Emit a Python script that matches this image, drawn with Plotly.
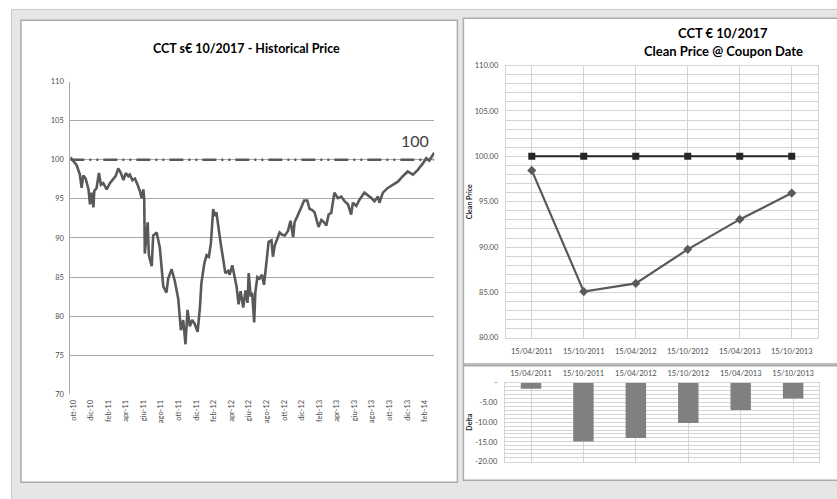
import plotly.graph_objects as go

# ---------------- data ----------------
hist_dates = [
    "2010-09-21", "2010-10-13", "2010-10-24", "2010-10-30", "2010-11-05", "2010-11-13", "2010-11-23",
    "2010-11-28", "2010-12-04", "2010-12-10", "2010-12-13", "2010-12-21", "2010-12-29",
    "2011-01-05", "2011-01-13", "2011-01-25", "2011-02-05", "2011-02-14", "2011-02-25", "2011-03-06",
    "2011-03-15", "2011-03-24", "2011-04-01", "2011-04-10", "2011-04-15", "2011-04-24", "2011-05-03",
    "2011-05-12", "2011-05-20", "2011-05-26", "2011-06-01", "2011-06-04", "2011-06-06", "2011-06-16",
    "2011-06-20", "2011-06-30", "2011-07-05", "2011-07-17", "2011-07-28", "2011-08-09", "2011-08-20",
    "2011-08-26", "2011-09-07", "2011-09-18", "2011-09-30", "2011-10-09", "2011-10-17", "2011-10-25",
    "2011-11-01", "2011-11-09", "2011-11-17", "2011-11-26", "2011-12-06", "2011-12-14", "2011-12-19",
    "2011-12-29",
    "2012-01-06", "2012-01-14", "2012-01-21", "2012-01-29", "2012-02-03", "2012-02-09", "2012-02-15",
    "2012-02-24", "2012-03-04", "2012-03-11", "2012-03-21", "2012-03-26", "2012-04-04", "2012-04-11",
    "2012-04-19", "2012-04-26", "2012-05-03", "2012-05-12", "2012-05-20", "2012-05-27", "2012-05-31",
    "2012-06-07", "2012-06-12", "2012-06-19", "2012-06-23", "2012-06-30", "2012-07-08", "2012-07-16",
    "2012-07-23", "2012-07-31", "2012-08-08", "2012-08-18", "2012-08-23", "2012-08-29", "2012-09-07",
    "2012-09-15", "2012-09-24", "2012-10-03", "2012-10-14", "2012-10-23", "2012-11-01", "2012-11-06",
    "2012-11-16", "2012-11-23", "2012-11-29", "2012-12-09", "2012-12-20", "2012-12-28",
    "2013-01-05", "2013-01-14", "2013-01-24", "2013-01-28", "2013-02-07", "2013-02-16", "2013-02-24",
    "2013-03-04", "2013-03-13", "2013-03-24", "2013-04-05", "2013-04-17", "2013-04-28", "2013-05-10",
    "2013-05-21", "2013-05-27", "2013-06-08", "2013-06-19", "2013-07-06", "2013-07-18", "2013-07-30",
    "2013-08-10", "2013-08-22", "2013-08-27", "2013-09-08", "2013-09-25", "2013-10-13", "2013-10-30",
    "2013-11-16", "2013-12-03", "2013-12-21",
    "2014-01-07", "2014-01-24", "2014-02-05", "2014-02-16", "2014-02-28", "2014-03-05",
]
hist_price = [
    100.3, 99.3, 98.1, 96.4, 98.0, 97.6, 96.2, 94.3, 95.8, 93.9, 96.0, 96.4, 98.3,
    96.8, 97.0, 96.2, 97.0, 97.4, 97.9, 98.9, 98.3, 97.4, 98.3, 97.9, 98.1, 97.4, 97.6, 96.8, 96.0,
    95.1, 96.2, 95.0, 88.0, 92.0, 87.8, 86.4, 90.3, 90.7, 88.8, 83.8, 83.0, 84.8, 86.0, 84.5, 82.2,
    78.2, 79.5, 76.4, 80.8, 78.7, 79.5, 79.0, 78.0, 81.1, 84.2, 86.7,
    87.8, 87.6, 89.3, 93.7, 92.8, 93.3, 91.4, 89.3, 87.2, 85.5, 85.8, 85.3, 86.5, 85.0, 83.8, 81.5,
    83.2, 81.1, 83.3, 81.7, 85.5, 82.5, 83.0, 79.2, 83.0, 85.0, 84.8, 85.3, 84.0, 86.7, 89.5, 89.7,
    87.6, 89.0, 89.9, 90.7, 90.4, 90.3, 90.9, 92.2, 90.1, 92.0, 92.8, 93.5, 93.9, 94.8, 94.8, 93.7,
    93.6, 93.3, 92.0, 91.4, 92.3, 92.0, 91.6, 93.0, 93.2, 95.8, 95.1, 95.3, 94.7, 94.3, 93.0, 94.5,
    94.1, 94.9, 95.8, 95.5, 95.1, 94.7, 95.3, 94.5, 95.8, 96.4, 96.8, 97.2, 97.9, 98.5, 98.1,
    98.7, 99.5, 100.2, 99.9, 100.6, 100.9,
]
par_value = 100

month_tick_dates = [
    "2010-10-01", "2010-12-01", "2011-02-01", "2011-04-01", "2011-06-01", "2011-08-01", "2011-10-01",
    "2011-12-01", "2012-02-01", "2012-04-01", "2012-06-01", "2012-08-01", "2012-10-01", "2012-12-01",
    "2013-02-01", "2013-04-01", "2013-06-01", "2013-08-01", "2013-10-01", "2013-12-01", "2014-02-01",
]
month_tick_labels = [
    "ott-10", "dic-10", "feb-11", "apr-11", "giu-11", "ago-11", "ott-11", "dic-11", "feb-12", "apr-12",
    "giu-12", "ago-12", "ott-12", "dic-12", "feb-13", "apr-13", "giu-13", "ago-13", "ott-13", "dic-13",
    "feb-14",
]

coupon_dates = ["15/04/2011", "15/10/2011", "15/04/2012", "15/10/2012", "15/04/2013", "15/10/2013"]
redemption = [100.0, 100.0, 100.0, 100.0, 100.0, 100.0]
clean_price = [98.45, 85.1, 86.0, 89.75, 93.05, 95.95]
delta = [-1.5, -14.9, -14.0, -10.2, -6.9, -4.0]

delta_tick_vals = [0, -5, -10, -15, -20]
delta_tick_text = ["-", "-5.00", "-10.00", "-15.00", "-20.00"]

# ---------------- figure ----------------
W, H = 837, 499
FONT = "Lato"
TXT = "#4d4d4d"


def px(x):
    return x / W


def py(y):
    return 1 - y / H


fig = go.Figure()

fig.add_trace(go.Scatter(
    x=hist_dates, y=hist_price, mode="lines", xaxis="x", yaxis="y",
    line=dict(color="#595959", width=2.6), showlegend=False, hoverinfo="skip"))
fig.add_trace(go.Scatter(
    x=[hist_dates[0], hist_dates[-1]], y=[par_value, par_value], mode="lines", xaxis="x", yaxis="y",
    line=dict(color="#595959", width=2.6, dash="14px,5px,2px,5px,2px,5px"), showlegend=False, hoverinfo="skip"))

fig.add_trace(go.Scatter(
    x=coupon_dates, y=redemption, mode="lines+markers", xaxis="x2", yaxis="y2",
    line=dict(color="#262626", width=2), marker=dict(symbol="square", size=7, color="#262626"),
    showlegend=False, hoverinfo="skip"))
fig.add_trace(go.Scatter(
    x=coupon_dates, y=clean_price, mode="lines+markers", xaxis="x2", yaxis="y2",
    line=dict(color="#595959", width=2.2), marker=dict(symbol="diamond", size=7, color="#595959"),
    showlegend=False, hoverinfo="skip"))

fig.add_trace(go.Bar(
    x=coupon_dates, y=delta, xaxis="x3", yaxis="y3", width=0.39,
    marker=dict(color="#808080", line=dict(width=0)), showlegend=False, hoverinfo="skip"))

tickfont = dict(family=FONT, size=7.5, color=TXT)
grid_r = "#d4d4d4"

left_dom_x = [px(68.5), px(433.3)]
left_dom_y = [py(397.5), py(79)]
tr_dom_x = [px(505), px(817.7)]
tr_dom_y = [py(340), py(62.7)]
br_dom_x = [px(504), px(819.3)]
br_dom_y = [py(466), py(385.7)]

fig.update_layout(
    width=W, height=H, margin=dict(l=0, r=0, t=0, b=0), autosize=False,
    paper_bgcolor="white", plot_bgcolor="rgba(0,0,0,0)",
    font=dict(family=FONT, color=TXT),
    xaxis=dict(
        type="date", domain=left_dom_x, anchor="y",
        range=["2010-09-21", "2014-03-05"],
        tickmode="array", tickvals=month_tick_dates, ticktext=month_tick_labels,
        tickangle=-90, tickfont=tickfont, showgrid=False, showline=False, zeroline=False, ticks="",
        ticklabelstandoff=3),
    yaxis=dict(
        domain=left_dom_y, anchor="x", range=[70, 110], dtick=5, tickfont=tickfont,
        showgrid=True, gridcolor="#a9a9a9", gridwidth=1, showline=True, linecolor="#a9a9a9",
        zeroline=False, ticks="", ticklabelstandoff=4),
    xaxis2=dict(
        type="category", domain=tr_dom_x, anchor="y2", tickfont=tickfont,
        showgrid=True, gridcolor=grid_r, showline=True, mirror=True, linecolor=grid_r,
        range=[-0.5, 5.5], ticks="", ticklabelstandoff=6),
    xaxis4=dict(
        type="linear", overlaying="x2", anchor="y2", range=[-0.5, 5.5], tick0=-0.5, dtick=1,
        showgrid=True, gridcolor=grid_r, showticklabels=False, zeroline=False, ticks=""),
    yaxis2=dict(
        domain=tr_dom_y, anchor="x2", range=[80, 110], dtick=5, tickformat=".2f", tickfont=tickfont,
        showgrid=True, gridcolor=grid_r, showline=True, mirror=True, linecolor=grid_r, zeroline=False,
        minor=dict(dtick=1, showgrid=True, gridcolor=grid_r), ticklabelstandoff=5,
        title=dict(text="<b>Clean Price</b>", font=dict(family=FONT, size=7, color="#262626"), standoff=1)),
    xaxis3=dict(
        type="category", domain=br_dom_x, anchor="y3", side="top", tickfont=tickfont,
        showgrid=True, gridcolor=grid_r, showline=True, mirror=True, linecolor=grid_r,
        range=[-0.5, 5.5], ticks="", ticklabelstandoff=3),
    xaxis5=dict(
        type="linear", overlaying="x3", anchor="y3", range=[-0.5, 5.5], tick0=-0.5, dtick=1,
        showgrid=True, gridcolor=grid_r, showticklabels=False, zeroline=False, ticks=""),
    yaxis3=dict(
        domain=br_dom_y, anchor="x3", range=[-20, 0], tickmode="array",
        tickvals=delta_tick_vals, ticktext=delta_tick_text, tickfont=tickfont,
        showgrid=True, gridcolor=grid_r, showline=True, mirror=True, linecolor=grid_r, zeroline=False,
        minor=dict(dtick=1, showgrid=True, gridcolor=grid_r), ticklabelstandoff=5,
        title=dict(text="<b>Delta</b>", font=dict(family=FONT, size=7, color="#262626"), standoff=1)),
)

# frames / panels
shapes = [
    dict(type="rect", xref="paper", yref="paper", x0=px(9.5), x1=px(845), y0=py(505), y1=py(5.5),
         fillcolor="#e6e6e6", line=dict(color="#c6c6c6", width=1), layer="below"),
    dict(type="rect", xref="paper", yref="paper", x0=px(19), x1=px(456.5), y0=py(487), y1=py(16.5),
         fillcolor="white", line=dict(color="#ababab", width=1.5), layer="below"),
    dict(type="rect", xref="paper", yref="paper", x0=px(462.5), x1=px(845), y0=py(366.5), y1=py(14.5),
         fillcolor="white", line=dict(color="#ababab", width=1.5), layer="below"),
    dict(type="rect", xref="paper", yref="paper", x0=px(462.5), x1=px(845), y0=py(485), y1=py(368.5),
         fillcolor="white", line=dict(color="#ababab", width=1.5), layer="below"),
]
fig.update_layout(shapes=shapes)

annotations = [
    dict(text="<b>CCT s€ 10/2017 - Historical Price</b>", xref="paper", yref="paper",
         x=px(245), y=py(45), xanchor="center", yanchor="middle", showarrow=False,
         font=dict(family=FONT, size=12.5, color="#000000")),
    dict(text="<b>CCT € 10/2017</b>", xref="paper", yref="paper",
         x=px(723), y=py(30), xanchor="center", yanchor="middle", showarrow=False,
         font=dict(family=FONT, size=13, color="#000000")),
    dict(text="<b>Clean Price @ Coupon Date</b>", xref="paper", yref="paper",
         x=px(723), y=py(48), xanchor="center", yanchor="middle", showarrow=False,
         font=dict(family=FONT, size=13, color="#000000")),
    dict(text=str(par_value), xref="paper", yref="paper",
         x=px(414), y=py(139), xanchor="center", yanchor="middle", showarrow=False,
         font=dict(family=FONT, size=16, color="#404040")),
]
fig.update_layout(annotations=annotations)

fig.write_html(
    "out.html",
    config={"displayModeBar": False, "staticPlot": True},
    post_script="document.body.style.margin='0';document.body.style.overflow='hidden';",
)
